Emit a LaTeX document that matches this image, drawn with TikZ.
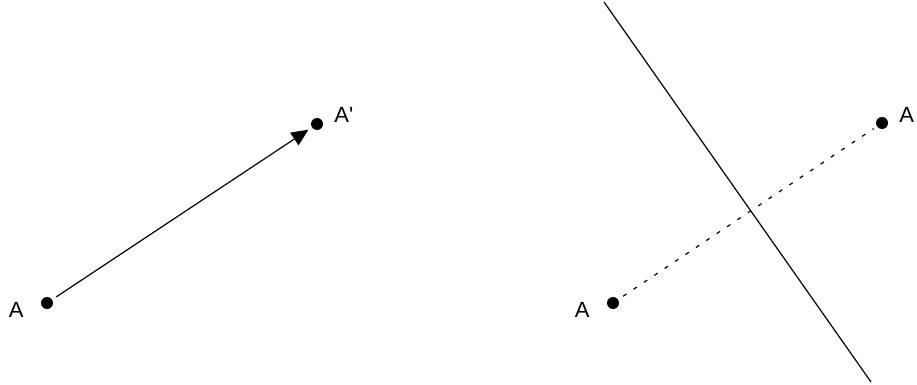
\documentclass[tikz,border=0pt]{standalone}
\usepackage{fontspec}
\newfontfamily\labelfont{Liberation Sans}
\usepackage{tikz}
\usetikzlibrary{arrows.meta}

\begin{document}
\begin{tikzpicture}[x=1pt,y=1pt,
    pt/.style={circle, fill=black, minimum size=12pt, inner sep=0pt},
    every label/.style={inner sep=0pt, font=\labelfont\fontsize{22}{24}\selectfont}]
    \useasboundingbox (0,0) rectangle (917,384);
    % translation
    \node[pt, label={[yshift=-7pt,label distance=17pt]left:A}] (a) at (47,81) {};
    \node[pt, label={[yshift=9pt,label distance=11pt]right:A'}] (a1) at (317,260) {};
    \draw[line width=1.2pt, -{Triangle[length=17pt,width=15pt]}, shorten >=4pt, shorten <=5pt] (a) -- (a1);
    % reflection
    \node[pt, label={[yshift=-7pt,label distance=17pt]left:A}] (b) at (613,81) {};
    \node[pt, label={[yshift=8pt,label distance=11pt]right:A}] (b1) at (882,261) {};
    \coordinate (m1) at (604,382);
    \coordinate (m2) at (871,2);
    \draw[line width=1.2pt] (m1) -- (m2);
    \draw[line width=1.2pt, dash pattern=on 4pt off 8.5pt, shorten <=6pt, shorten >=4pt] (b) -- (b1);
\end{tikzpicture}
\end{document}
